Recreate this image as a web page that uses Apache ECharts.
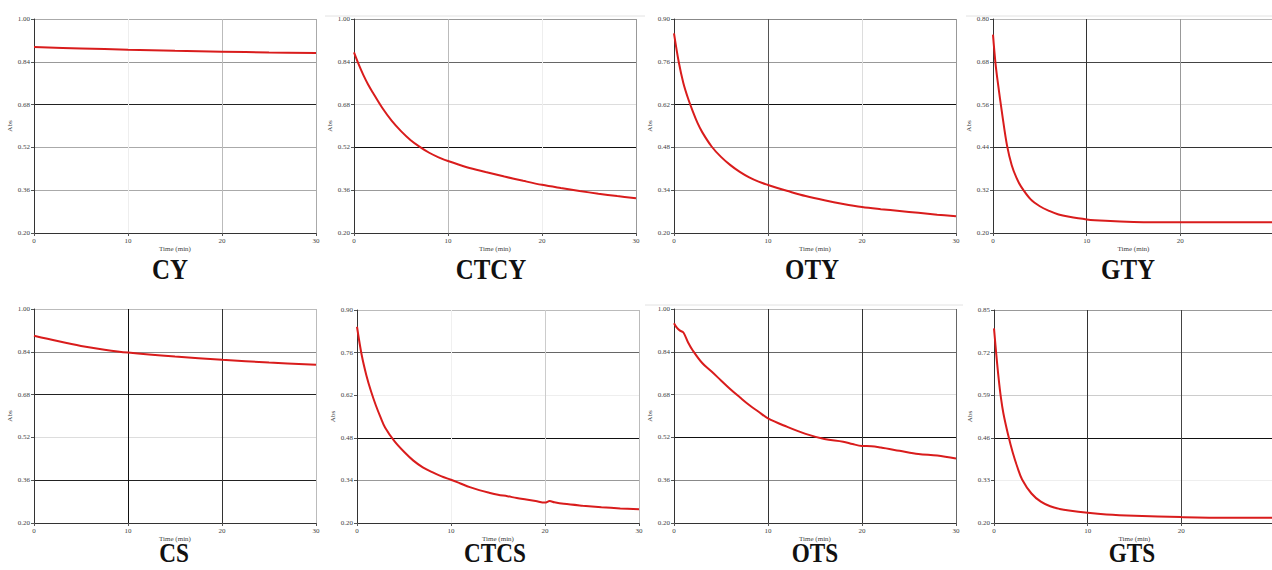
<!DOCTYPE html>
<html>
<head>
<meta charset="utf-8">
<title>Abs vs Time</title>
<script src="https://cdn.jsdelivr.net/npm/echarts@6/dist/echarts.min.js"></script>
<style>
  html, body { margin: 0; padding: 0; background: #fff; }
  #main { width: 1272px; height: 570px; }
</style>
</head>
<body>
<div id="main"></div>
<script type="text/javascript">
// panel names (top row, then bottom row)
var panelNames = ['CY', 'CTCY', 'OTY', 'GTY', 'CS', 'CTCS', 'OTS', 'GTS'];

// y axis ranges of every panel
var yMinList  = [0.20, 0.20, 0.20, 0.20, 0.20, 0.20, 0.20, 0.20];
var yMaxList  = [1.00, 1.00, 0.90, 0.80, 1.00, 0.90, 1.00, 0.85];
var yStepList = [0.16, 0.16, 0.14, 0.12, 0.16, 0.14, 0.16, 0.13];
var xMax = 30;
var xStep = 10;
var xName = 'Time (min)';
var yName = 'Abs';

// curves: time (min) / absorbance
var cyTime = [0, 5, 10, 15, 20, 25, 30];
var cyAbs  = [0.895, 0.890, 0.885, 0.881, 0.878, 0.875, 0.873];

var ctcyTime = [0, 0.5, 1, 1.5, 2, 3, 4, 5, 6, 7, 8, 9, 10, 12, 14, 16, 18, 20, 22, 24, 26, 28, 30];
var ctcyAbs  = [0.875, 0.830, 0.790, 0.755, 0.725, 0.668, 0.620, 0.581, 0.548, 0.522, 0.500, 0.483, 0.469,
                0.446, 0.428, 0.411, 0.395, 0.380, 0.368, 0.357, 0.347, 0.338, 0.330];

var otyTime = [0, 0.5, 1, 1.5, 2, 2.5, 3, 4, 5, 6, 7, 8, 9, 10, 11, 12, 14, 16, 18, 20, 22, 24, 26, 28, 30];
var otyAbs  = [0.853, 0.760, 0.690, 0.640, 0.598, 0.560, 0.530, 0.483, 0.449, 0.422, 0.400, 0.382, 0.368, 0.357,
               0.347, 0.338, 0.321, 0.307, 0.295, 0.285, 0.278, 0.272, 0.266, 0.260, 0.255];

var gtyTime = [0, 0.25, 0.5, 1, 1.5, 2, 2.5, 3, 4, 5, 6, 7, 8, 10, 12, 15, 20, 25, 30];
var gtyAbs  = [0.756, 0.680, 0.625, 0.530, 0.445, 0.390, 0.355, 0.330, 0.295, 0.275, 0.262, 0.252, 0.246,
               0.238, 0.234, 0.231, 0.230, 0.230, 0.230];

var csTime = [0, 2.5, 5, 7.5, 10, 15, 20, 25, 30];
var csAbs  = [0.900, 0.880, 0.862, 0.848, 0.837, 0.822, 0.810, 0.800, 0.792];

var ctcsTime = [0, 0.5, 1, 1.5, 2, 2.5, 3, 4, 5, 6, 7, 8, 9, 10, 11, 12, 13, 14, 15, 16, 17, 18, 19, 20, 20.5, 21,
                22, 24, 26, 28, 30];
var ctcsAbs  = [0.845, 0.752, 0.685, 0.632, 0.587, 0.548, 0.513, 0.468, 0.434, 0.405, 0.383, 0.367, 0.353, 0.342,
                0.330, 0.318, 0.308, 0.300, 0.293, 0.288, 0.282, 0.277, 0.272, 0.267, 0.272, 0.268,
                0.263, 0.257, 0.252, 0.248, 0.245];

var otsTime = [0, 0.3, 0.6, 1, 1.5, 2, 3, 4, 5, 6, 7, 8, 9, 10, 12, 14, 16, 18, 19, 20, 21, 22, 24, 26, 28, 30];
var otsAbs  = [0.947, 0.930, 0.920, 0.912, 0.875, 0.845, 0.798, 0.766, 0.733, 0.700, 0.670, 0.641, 0.616, 0.591,
               0.560, 0.533, 0.514, 0.504, 0.495, 0.488, 0.487, 0.482, 0.470, 0.458, 0.452, 0.441];

var gtsTime = [0, 0.25, 0.5, 0.75, 1, 1.5, 2, 2.5, 3, 4, 5, 6, 7, 8, 10, 12, 15, 20, 25, 30];
var gtsAbs  = [0.794, 0.713, 0.640, 0.580, 0.535, 0.470, 0.415, 0.370, 0.333, 0.290, 0.265, 0.251, 0.243,
               0.238, 0.231, 0.226, 0.222, 0.218, 0.216, 0.216];

var timeLists = [cyTime, ctcyTime, otyTime, gtyTime, csTime, ctcsTime, otsTime, gtsTime];
var absLists  = [cyAbs, ctcyAbs, otyAbs, gtyAbs, csAbs, ctcsAbs, otsAbs, gtsAbs];

// layout: [left, top, width, height] of each plot area
var boxes = [
	[34, 19, 282, 214], [354, 19, 282, 214], [674, 19, 282, 214], [993, 19, 281, 214],
	[34, 309, 282, 214], [357, 310, 282, 213], [674, 309, 282, 214], [994, 310, 281, 213]
];
// the right-hand panels run past the page edge, so their last x label is not seen
var showLastX = [true, true, true, false, true, true, true, false];
// centre of the big panel labels, and their size
var labelPos = [[170, 269], [491, 269], [812, 269], [1128, 269],
                [174, 553], [495, 553], [815, 553], [1132, 553]];
var labelSize = [29, 29, 29, 29, 27, 27, 27, 27];

// gridline shades, bottom to top / left to right (the scan shows them unevenly)
var ySplitColors = [
	['#333', '#aaa', '#aaa', '#222', '#999', '#aaa'],
	['#333', '#999', '#111', '#ddd', '#666', '#999'],
	['#333', '#999', '#999', '#111', '#999', '#888'],
	['#333', '#777', '#333', '#ddd', '#444', '#bbb'],
	['#333', '#222', '#ddd', '#222', '#888', '#bbb'],
	['#333', '#999', '#111', '#eee', '#666', '#bbb'],
	['#333', '#888', '#111', '#ddd', '#666', '#bbb'],
	['#333', '#eee', '#111', '#ccc', '#999', '#999']
];
var xSplitColors = [
	['#333', '#eee', '#bbb', '#aaa'],
	['#333', '#bbb', '#eee', '#999'],
	['#333', '#555', '#ddd', '#999'],
	['#333', '#333', '#999', '#999'],
	['#333', '#111', '#333', '#bbb'],
	['#333', '#f0f0f0', '#ccc', '#bbb'],
	['#333', '#333', '#333', '#666'],
	['#333', '#333', '#444', '#999']
];

function pairUp(xs, ys) {
	var out = [];
	for (var i = 0; i < xs.length; i++) {
		out.push([xs[i], ys[i]]);
	}
	return out;
}

function buildOption() {
	var grids = [], xAxes = [], yAxes = [], series = [], graphics = [];
	var smallText = { fontFamily: 'Liberation Serif', fontSize: 7, color: '#444' };
	for (var i = 0; i < panelNames.length; i++) {
		var b = boxes[i];
		grids.push({
			left: b[0], top: b[1], width: b[2], height: b[3],
			show: false, containLabel: false, outerBoundsMode: 'none'
		});
		xAxes.push({
			type: 'value', gridIndex: i, min: 0, max: xMax, interval: xStep,
			name: xName, nameLocation: 'middle', nameGap: 12,
			nameTextStyle: smallText,
			axisLine: { show: true, onZero: false, lineStyle: { color: '#333', width: 1 } },
			axisTick: { show: true, length: 3, lineStyle: { color: '#555' } },
			axisLabel: {
				margin: 4, fontFamily: smallText.fontFamily, fontSize: 7, color: '#444',
				showMaxLabel: showLastX[i]
			},
			splitLine: { show: true, lineStyle: { color: xSplitColors[i], width: 1 } }
		});
		yAxes.push({
			type: 'value', gridIndex: i, min: yMinList[i], max: yMaxList[i], interval: yStepList[i],
			name: yName, nameLocation: 'middle', nameGap: 19,
			nameTextStyle: smallText,
			axisLine: { show: true, lineStyle: { color: '#333', width: 1 } },
			axisTick: { show: true, length: 3, lineStyle: { color: '#555' } },
			axisLabel: {
				margin: 4, fontFamily: smallText.fontFamily, fontSize: 7, color: '#444',
				formatter: function (v) { return v.toFixed(2); }
			},
			splitLine: { show: true, lineStyle: { color: ySplitColors[i], width: 1 } }
		});
		series.push({
			type: 'line', name: panelNames[i], xAxisIndex: i, yAxisIndex: i,
			data: pairUp(timeLists[i], absLists[i]),
			smooth: 0.35, showSymbol: false, silent: true,
			lineStyle: { color: '#d91c1c', width: 2 }
		});
		graphics.push({
			type: 'text', x: labelPos[i][0], y: labelPos[i][1], scaleX: 0.86,
			style: {
				text: panelNames[i], fontFamily: 'Liberation Serif', fontWeight: 'bold', fontSize: labelSize[i],
				fill: '#111', align: 'center', verticalAlign: 'middle'
			}
		});
	}
	// faint frame edges of the original screenshots above some panels
	var edges = [[325, 16, 645], [966, 16, 1272], [645, 305, 963]];
	for (var k = 0; k < edges.length; k++) {
		graphics.push({
			type: 'line', silent: true,
			shape: { x1: edges[k][0], y1: edges[k][1], x2: edges[k][2], y2: edges[k][1] },
			style: { stroke: '#e2e2e2', lineWidth: 1 }
		});
	}
	return {
		backgroundColor: '#fff',
		animation: false,
		grid: grids,
		xAxis: xAxes,
		yAxis: yAxes,
		series: series,
		graphic: graphics
	};
}

var myChart = echarts.init(document.getElementById('main'), null, { renderer: 'svg' });
myChart.setOption(buildOption());
</script>
</body>
</html>
